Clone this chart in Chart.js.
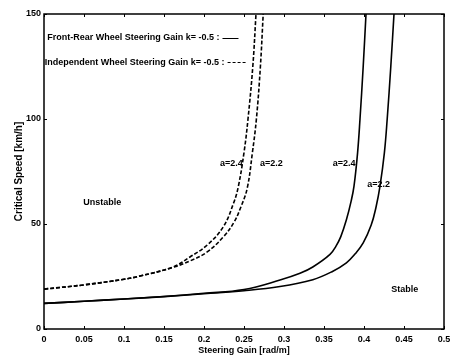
<!DOCTYPE html>
<html>
<head>
<meta charset="utf-8">
<script src="https://cdn.jsdelivr.net/npm/chart.js@4.4.1/dist/chart.umd.min.js"></script>
<style>
  html, body { margin: 0; padding: 0; background: #fff; }
  #wrap { width: 451px; height: 356px; }
</style>
</head>
<body>
<div id="wrap"><canvas id="chart" width="451" height="356"></canvas></div>
<script>
// Data: steering gain [rad/m] vs critical speed [km/h]
const frontRear24X = [0, 0.05, 0.1, 0.15, 0.2, 0.25, 0.295, 0.32, 0.336, 0.3575, 0.365, 0.371, 0.378, 0.384, 0.3875, 0.392, 0.395, 0.399, 0.4025];
const frontRear24Y = [12.2, 13.2, 14.3, 15.5, 17, 18.8, 23.3, 26.5, 29.5, 35.5, 39.5, 44, 52, 61, 68, 84, 100, 125, 150];

const frontRear22X = [0, 0.05, 0.1, 0.15, 0.2, 0.25, 0.295, 0.336, 0.36, 0.378, 0.389, 0.399, 0.409, 0.415, 0.42, 0.4255, 0.429, 0.4335, 0.4375];
const frontRear22Y = [12.2, 13.2, 14.3, 15.4, 16.8, 18.2, 20.2, 23.5, 27.3, 31.5, 35.8, 41, 49.5, 58, 68, 84, 100, 125, 150];

const indep24X = [0, 0.05, 0.1, 0.12, 0.161, 0.1825, 0.204, 0.224, 0.237, 0.243, 0.25, 0.255, 0.261, 0.265];
const indep24Y = [19, 21, 23.7, 25.2, 29.5, 34.3, 40, 48.6, 60, 68, 84, 100, 125, 150];

const indep22X = [0, 0.05, 0.1, 0.12, 0.161, 0.1825, 0.204, 0.224, 0.237, 0.246, 0.254, 0.2605, 0.2655, 0.2705, 0.274];
const indep22Y = [19, 21, 23.7, 25.2, 29.3, 32.4, 36.7, 43.8, 50.5, 58, 67, 84, 100, 125, 150];

const xTicks = [0, 0.05, 0.1, 0.15, 0.2, 0.25, 0.3, 0.35, 0.4, 0.45, 0.5];
const yTicks = [0, 50, 100, 150];

const FONT = '"Liberation Sans", Arial, sans-serif';

function pts(xs, ys) { return xs.map((x, i) => ({ x: x, y: ys[i] })); }

function line(label, xs, ys, dashed) {
    return {
        label: label, data: pts(xs, ys), showLine: true, pointRadius: 0,
        borderColor: '#000', borderWidth: 1.6, borderDash: dashed ? [4, 2] : [],
        tension: 0.4, fill: false
    };
}

// frame, inward ticks and the text labels inside the plot
const decorations = {
    id: 'decorations',
    afterDraw(chart) {
        const ctx = chart.ctx, a = chart.chartArea;
        const xs = chart.scales.x, ys = chart.scales.y;
        ctx.save();
        ctx.strokeStyle = '#000';
        ctx.lineWidth = 1.5;
        ctx.setLineDash([]);
        ctx.strokeRect(a.left, a.top, a.right - a.left, a.bottom - a.top);
        ctx.lineWidth = 1;
        xTicks.forEach(t => {
            const px = Math.round(xs.getPixelForValue(t)) + 0.5;
            ctx.beginPath();
            ctx.moveTo(px, a.bottom); ctx.lineTo(px, a.bottom - 3);
            ctx.moveTo(px, a.top); ctx.lineTo(px, a.top + 3);
            ctx.stroke();
        });
        yTicks.forEach(t => {
            const py = Math.round(ys.getPixelForValue(t)) + 0.5;
            ctx.beginPath();
            ctx.moveTo(a.left, py); ctx.lineTo(a.left + 3, py);
            ctx.moveTo(a.right, py); ctx.lineTo(a.right - 3, py);
            ctx.stroke();
        });

        ctx.fillStyle = '#000';
        ctx.font = 'bold 9px ' + FONT;
        ctx.textBaseline = 'middle';
        ctx.textAlign = 'left';
        const txt = (s, x, y) => ctx.fillText(s, xs.getPixelForValue(x), ys.getPixelForValue(y));

        const t1 = 'Front-Rear Wheel Steering Gain k= -0.5 :';
        const t2 = 'Independent Wheel Steering Gain k= -0.5 :';
        txt(t1, 0.004, 138.6);
        txt(t2, 0.001, 127);
        let ex = xs.getPixelForValue(0.004) + ctx.measureText(t1).width + 3;
        let ey = Math.round(ys.getPixelForValue(138.6)) + 0.5;
        ctx.lineWidth = 1;
        ctx.beginPath(); ctx.moveTo(ex, ey); ctx.lineTo(ex + 16, ey); ctx.stroke();
        ex = xs.getPixelForValue(0.001) + ctx.measureText(t2).width + 3;
        ey = Math.round(ys.getPixelForValue(127)) + 0.5;
        ctx.setLineDash([3, 2]);
        ctx.beginPath(); ctx.moveTo(ex, ey); ctx.lineTo(ex + 18, ey); ctx.stroke();
        ctx.setLineDash([]);

        txt('a=2.4', 0.22, 79);
        txt('a=2.2', 0.27, 79);
        txt('a=2.4', 0.361, 79);
        txt('a=2.2', 0.404, 69);
        txt('Unstable', 0.049, 60);
        txt('Stable', 0.434, 19);
        ctx.restore();
    }
};

new Chart(document.getElementById('chart'), {
    type: 'scatter',
    data: {
        datasets: [
            line('Front-Rear a=2.4', frontRear24X, frontRear24Y, false),
            line('Front-Rear a=2.2', frontRear22X, frontRear22Y, false),
            line('Independent a=2.4', indep24X, indep24Y, true),
            line('Independent a=2.2', indep22X, indep22Y, true)
        ]
    },
    options: {
        responsive: false,
        animation: false,
        layout: { padding: { top: 14, right: 7, left: 0, bottom: 0 } },
        plugins: { legend: { display: false }, tooltip: { enabled: false } },
        scales: {
            x: {
                type: 'linear', min: 0, max: 0.5,
                afterBuildTicks: s => { s.ticks = xTicks.map(v => ({ value: v })); },
                afterFit: s => { s.height = 27; s.paddingLeft = 0; s.paddingRight = 0; },
                grid: { display: false, drawTicks: false },
                border: { display: false },
                ticks: { color: '#000', padding: 5, maxRotation: 0, autoSkip: false,
                    font: { family: FONT, size: 9, weight: 'bold' },
                    callback: v => String(v) },
                title: { display: true, text: 'Steering Gain [rad/m]', color: '#000',
                    padding: { top: 0, bottom: 0 }, font: { family: FONT, size: 9, weight: 'bold' } }
            },
            y: {
                type: 'linear', min: 0, max: 150,
                afterBuildTicks: s => { s.ticks = yTicks.map(v => ({ value: v })); },
                afterFit: s => { s.width = 44; s.paddingTop = 0; s.paddingBottom = 0; },
                grid: { display: false, drawTicks: false },
                border: { display: false },
                ticks: { color: '#000', padding: 3,
                    font: { family: FONT, size: 9, weight: 'bold' } },
                title: { display: true, text: 'Critical Speed [km/h]', color: '#000',
                    padding: { top: 13, bottom: 0 }, font: { family: FONT, size: 10, weight: 'bold' } }
            }
        }
    },
    plugins: [decorations]
});
</script>
</body>
</html>
